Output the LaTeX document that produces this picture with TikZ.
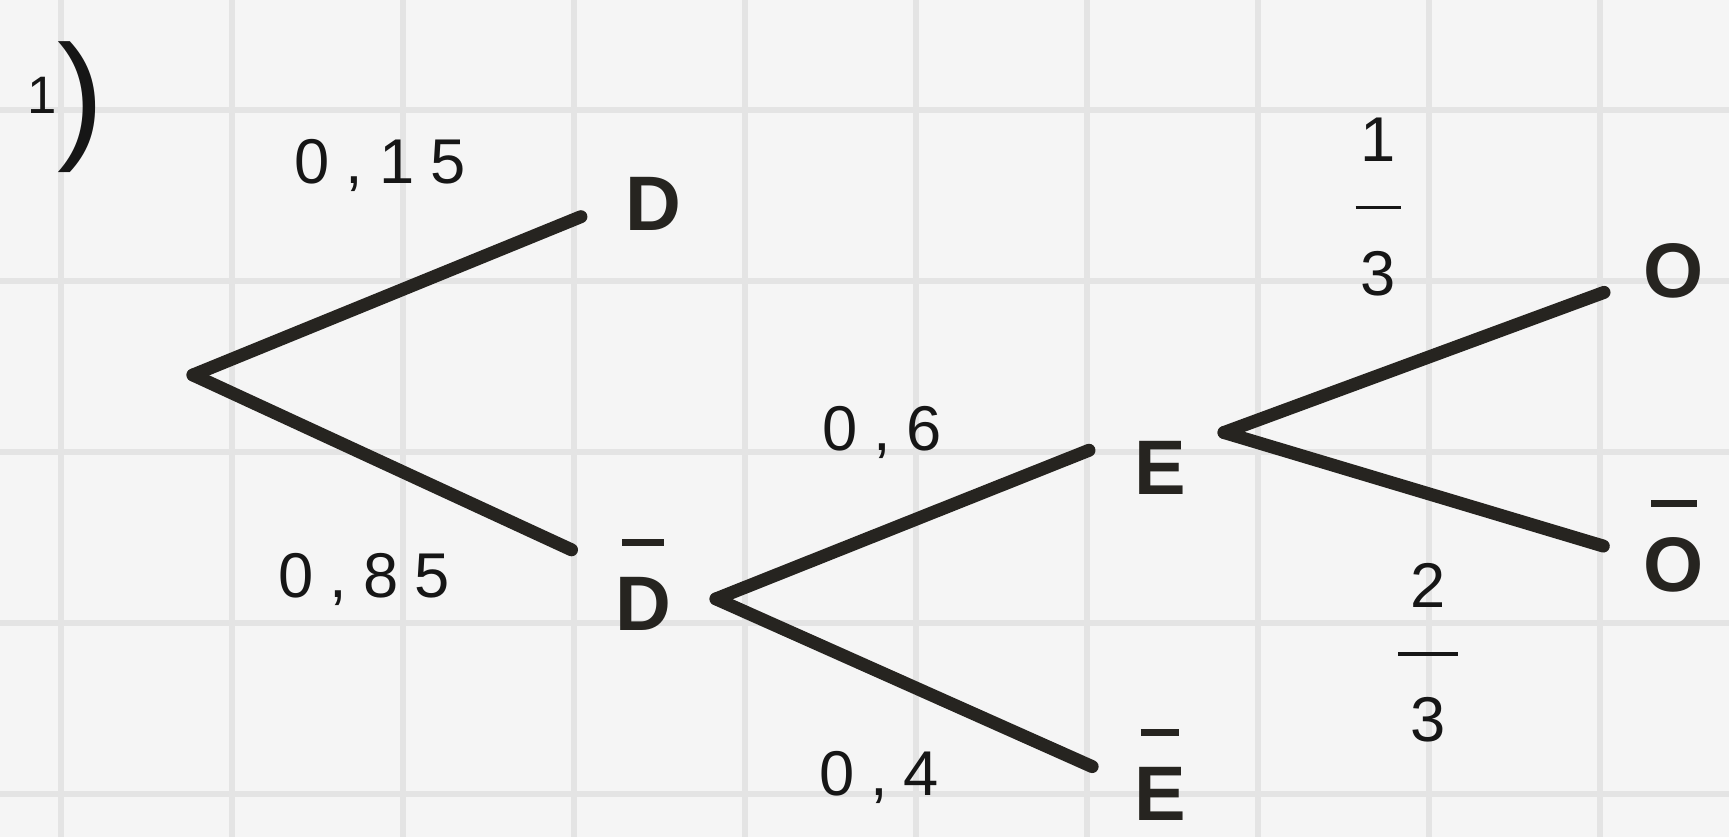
\documentclass[tikz,border=0pt]{standalone}
\usepackage{fontspec}
\setmainfont{Liberation Sans}
\newfontfamily\handfont[LetterSpace=25]{Liberation Sans}
\definecolor{inkc}{RGB}{38,36,32}
\definecolor{penc}{RGB}{22,22,22}
\definecolor{gridc}{RGB}{228,228,228}
\definecolor{paperc}{RGB}{245,245,245}
\newsavebox{\lettbox}
% letter with a short bar above it, the bar does not change the box
\newcommand{\nbar}[1]{\sbox\lettbox{#1}\rlap{\hbox to \wd\lettbox{\hss\smash{\raisebox{1.1em}{\rule{0.75\wd\lettbox}{0.09em}}}\hss}}\usebox\lettbox}
\begin{document}
\begin{tikzpicture}[
    branch/.style={line width=3.7pt, color=inkc, line cap=round},
    event/.style={circle, minimum size=1.45cm, inner sep=0pt, text=inkc, font=\fontsize{22}{26}\selectfont\bfseries},
    prob/.style={text=penc, font=\handfont\fontsize{18}{19}\selectfont},
    gridline/.style={line width=0.06cm, color=gridc}]
\useasboundingbox (0,0) rectangle (17.29,8.37);
\fill[paperc] (0,0) rectangle (17.29,8.37);
\foreach \i in {0,...,9}
    \draw[gridline] ({0.606+1.71*\i},0) -- ++(0,8.37);
\foreach \j in {0,...,4}
    \draw[gridline] (0,{7.27-1.71*\j}) -- ++(17.29,0);

\node[prob] (num) at (0.66,7.30) {\raisebox{0.3cm}{\fontsize{15}{16}\selectfont 1}{\fontsize{40}{42}\selectfont )}};

\coordinate (root) at (1.93,4.62);
\node[event] (D) at (6.53,6.33) {D};
\node[event] (Db) at (6.43,2.33) {\nbar{D}};
\node[event] (E) at (11.60,3.69) {E};
\node[event] (Eb) at (11.60,0.43) {\nbar{E}};
\node[event] (O) at (16.74,5.66) {O};
\node[event] (Ob) at (16.74,2.72) {\nbar{O}};

\draw[branch] (root) -- (D.190);
\draw[branch, shorten >=0.17cm] (root) -- (Db.140);
\draw[branch] (Db.4) -- (E.166);
\draw[branch] (Db.4) -- (Eb.158);
\draw[branch] (E.29) -- (O.197);
\draw[branch] (E.29) -- (Ob.165);

\node[prob] (pD) at (3.80,6.72) {0,15};
\node[prob] (pDb) at (3.64,2.58) {0,85};
\node[prob] (pE) at (8.82,4.05) {0,6};
\node[prob] (pEb) at (8.79,0.60) {0,4};
\node[prob, align=center] (pO) at (13.78,6.30) {1\\\rule[0.3em]{0.45cm}{1pt}\\3};
\node[prob, align=center] (pOb) at (14.28,1.84) {2\\\rule[0.3em]{0.6cm}{1pt}\\3};
\end{tikzpicture}
\end{document}
